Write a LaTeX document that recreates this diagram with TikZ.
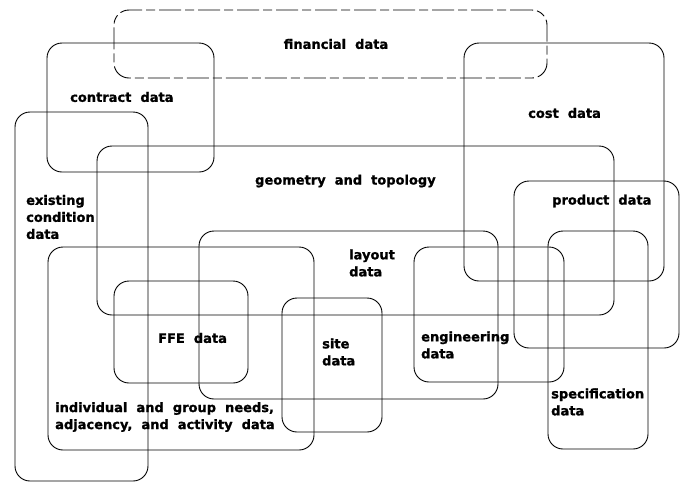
\documentclass[tikz,border=0pt]{standalone}
\usepackage{fontspec}
\newfontfamily\lblfont[WordSpace=2.0,BoldFeatures={FakeBold=1.2}]{DejaVu Sans}
\begin{document}
\begin{tikzpicture}[x=1pt,y=-1pt,
  region/.style={draw=black,line width=0.9pt,rounded corners=15pt,inner sep=0pt,outer sep=0pt,anchor=north west},
  brokenline/.style={dash pattern=on 22pt off 4pt on 9pt off 4pt},
  lbl/.style={inner sep=0pt,anchor=west,align=left,font=\lblfont\bfseries\fontsize{13}{17}\selectfont}]
\useasboundingbox (0,0) rectangle (686,483);
\newcommand\regionbox[6]{\node[region,#6,minimum width=#4-#2,minimum height=#5-#3] (#1) at (#2,#3) {};}
% regions: name, x1, y1, x2, y2
\regionbox{fin}{114}{10}{547}{78}{brokenline}
\regionbox{con}{47}{43}{214}{172}{}
\regionbox{exi}{15}{112}{148}{481}{}
\regionbox{geo}{97}{146}{614}{315}{}
\regionbox{cos}{464}{43}{664}{281}{}
\regionbox{pro}{514}{181}{679}{348}{}
\regionbox{lay}{199}{231}{498}{399}{}
\regionbox{ind}{48}{247}{314}{450}{}
\regionbox{ffe}{114}{281}{248}{383}{}
\regionbox{sit}{282}{298}{382}{432}{}
\regionbox{eng}{414}{247}{564}{382}{}
\regionbox{spe}{548}{231}{648}{449}{}
% labels
\node[lbl,anchor=center] (tfin) at (336,44) {financial data};
\node[lbl] (tcon) at (70,97) {contract data};
\node[lbl] (tcos) at (528,113) {cost data};
\node[lbl] (texi) at (26,217) {existing\\condition\\data};
\node[lbl] (tgeo) at (255,181) {geometry and topology};
\node[lbl] (tpro) at (552,201) {product data};
\node[lbl] (tlay) at (349,263) {layout\\data};
\node[lbl] (tffe) at (158,338) {FFE data};
\node[lbl] (tsit) at (322,352) {site\\data};
\node[lbl] (teng) at (421,345) {engineering\\data};
\node[lbl] (tspe) at (551,402) {specification\\data};
\node[lbl] (tind) at (55,417) {individual and group needs,\\adjacency, and activity data};
\end{tikzpicture}
\end{document}
